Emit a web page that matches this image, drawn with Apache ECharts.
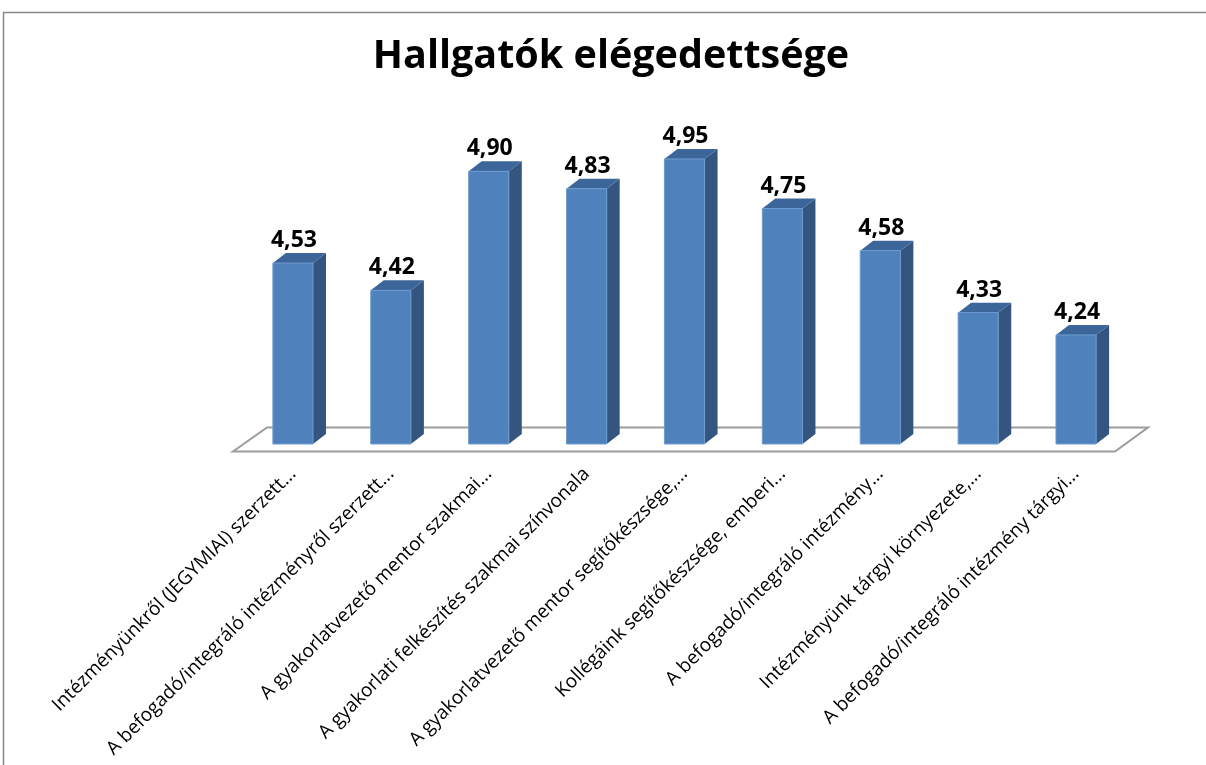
<!DOCTYPE html>
<html lang="hu">
<head>
<meta charset="utf-8">
<script src="https://cdn.jsdelivr.net/npm/echarts@6/dist/echarts.min.js"></script>
<style>
    html, body {margin: 0; padding: 0; background: #fff;}
    #chart {width: 1206px; height: 765px;}
</style>
</head>
<body>
<div id="chart"></div>
<script>
    var categories = [
        'Intézményünkről (JEGYMIAI) szerzett...',
        'A befogadó/integráló intézményről szerzett...',
        'A gyakorlatvezető mentor szakmai...',
        'A gyakorlati felkészítés szakmai színvonala',
        'A gyakorlatvezető mentor segítőkészsége,...',
        'Kollégáink segítőkészsége, emberi...',
        'A befogadó/integráló intézmény...',
        'Intézményünk tárgyi környezete,...',
        'A befogadó/integráló intézmény tárgyi...'
    ];
    var values = [4.53, 4.42, 4.90, 4.83, 4.95, 4.75, 4.58, 4.33, 4.24];
    var yMin = 3.8;
    var yMax = 5.2;

    var chart = echarts.init(document.getElementById('chart'));

    // floor of the 3d plot, under the bars
    function renderFloor(params, api) {
        var first = api.coord([0, yMin]);
        var last = api.coord([categories.length - 1, yMin]);
        var band = api.size([1, 0])[0];
        var x0 = first[0] - band / 2, x1 = last[0] + band / 2, y = first[1];
        return {
            type: 'polygon',
            shape: {points: [[x0 - 11, y + 7.5], [x1 - 10, y + 7.5], [x1 + 23, y - 16.5], [x0 + 23, y - 16.5]]},
            style: {fill: '#fff', stroke: '#9c9c9c', lineWidth: 2}
        };
    }

    function renderBar(params, api) {
        var i = api.value(0), v = api.value(1);
        var top = api.coord([i, v]), base = api.coord([i, yMin]);
        var band = api.size([1, 0])[0];
        var w = band * 0.41, dx = 13, dy = 10;
        var xl = top[0] - w / 2, xr = top[0] + w / 2, yt = top[1], yb = base[1];
        return {
            type: 'group',
            children: [
                {type: 'polygon', shape: {points: [[xr, yt], [xr + dx, yt - dy], [xr + dx, yb - dy], [xr, yb]]},
                    style: {fill: '#34557f'}},
                {type: 'polygon', shape: {points: [[xl, yt], [xl + dx, yt - dy], [xr + dx, yt - dy], [xr, yt]]},
                    style: {fill: '#3c669a'}},
                {type: 'rect', shape: {x: xl, y: yt, width: w, height: yb - yt},
                    style: {fill: '#4f81bd', stroke: '#6f9bd0', lineWidth: 1}},
                {type: 'text', style: {
                    text: v.toFixed(2).replace('.', ','), x: top[0] + 1, y: yt - dy - 1,
                    align: 'center', verticalAlign: 'bottom',
                    fontFamily: 'Open Sans', fontWeight: 'bold', fontSize: 23, fill: '#000'
                }}
            ]
        };
    }

    chart.setOption({
        animation: false,
        title: {
            text: 'Hallgatók elégedettsége',
            left: 606,
            textAlign: 'center',
            top: 32,
            textStyle: {fontFamily: 'Open Sans', fontWeight: 'bold', fontSize: 39.5, color: '#000'}
        },
        graphic: [{
            type: 'rect',
            shape: {x: 3.5, y: 12.5, width: 1300, height: 900},
            style: {fill: 'none', stroke: '#8a8a8a', lineWidth: 1.5},
            silent: true
        }],
        grid: {left: 244, right: 81, top: 97, bottom: 321},
        xAxis: {
            type: 'category',
            data: categories,
            axisLine: {show: false},
            axisTick: {show: false},
            axisLabel: {
                interval: 0, rotate: 45, margin: 27,
                fontFamily: 'Open Sans', fontSize: 19, color: '#000'
            }
        },
        yAxis: {
            type: 'value', min: yMin, max: yMax,
            show: false
        },
        series: [
            {type: 'custom', renderItem: renderFloor, data: [[0, yMin]], z: 1, silent: true},
            {type: 'custom', renderItem: renderBar, data: values.map(function (v, i) { return [i, v]; }), z: 2}
        ]
    });
</script>
</body>
</html>
